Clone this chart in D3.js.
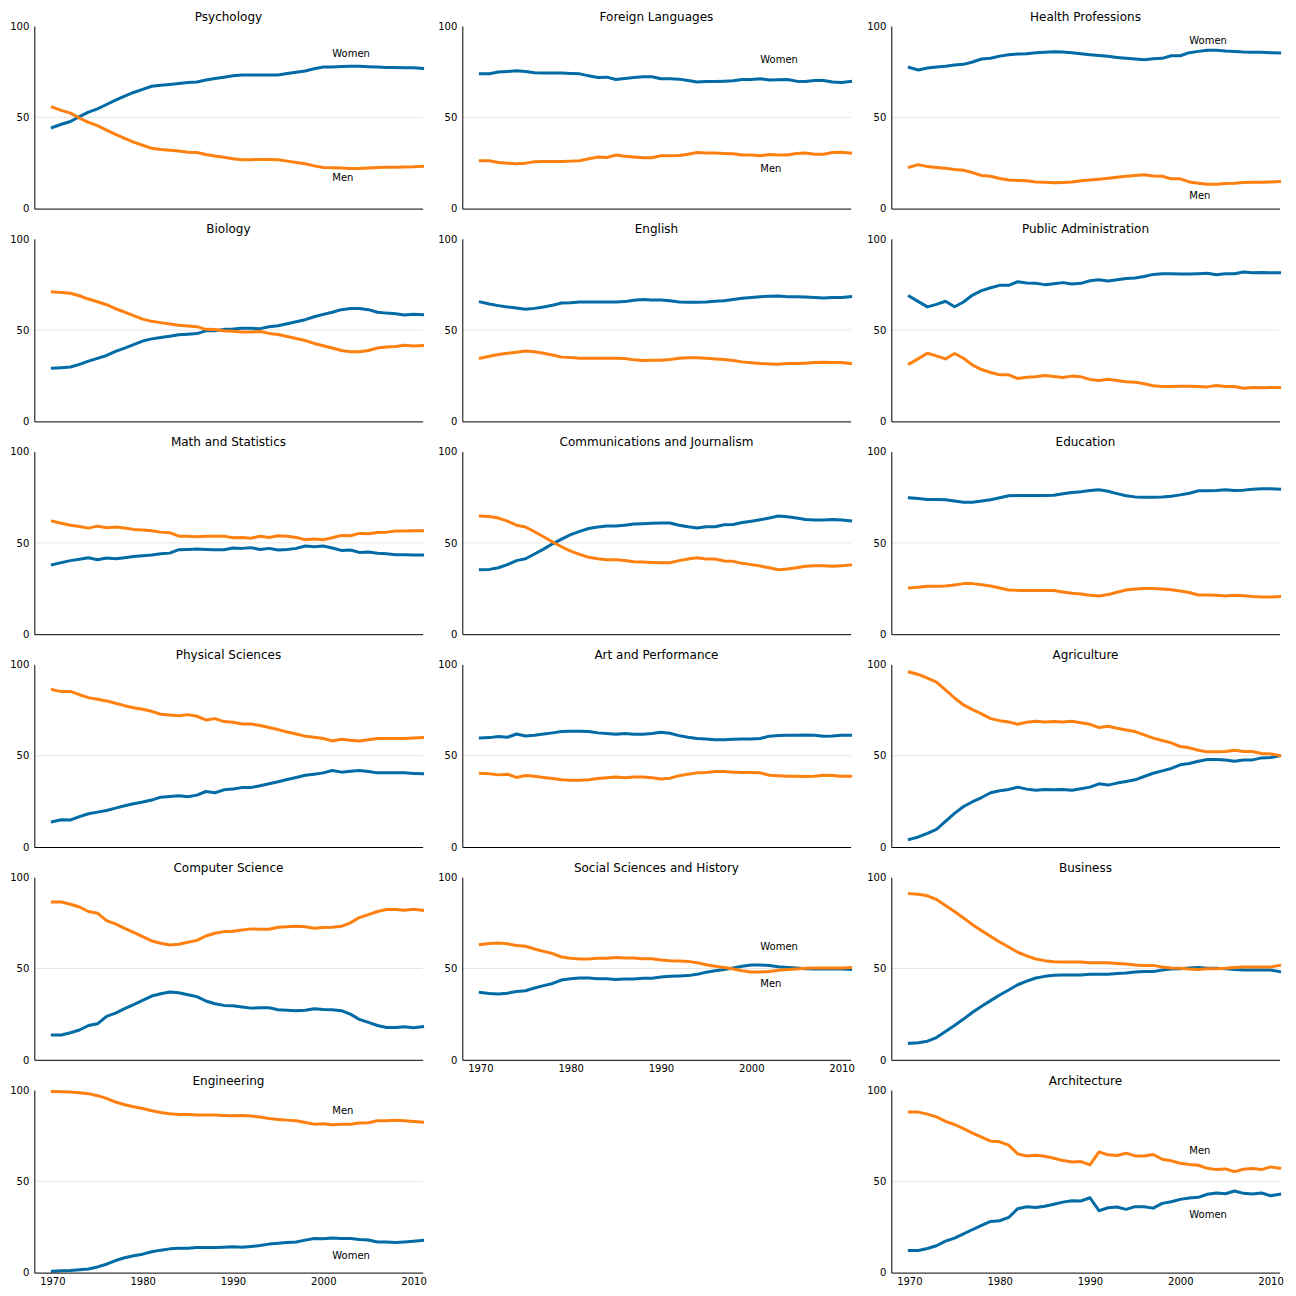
<!DOCTYPE html>
<html>
<head>
<meta charset="utf-8">
<script src="https://cdn.jsdelivr.net/npm/d3@7"></script>
<style>
html, body { margin: 0; padding: 0; background: #fff; }
svg { display: block; }
text { font-family: "DejaVu Sans", sans-serif; }
</style>
</head>
<body>
<div id="chart"></div>
<script>
// ---------- DATA (percent of bachelor's degrees awarded to women, USA) ----------
const years = [1970,1971,1972,1973,1974,1975,1976,1977,1978,1979,1980,1981,1982,1983,1984,1985,1986,1987,1988,1989,1990,1991,1992,1993,1994,1995,1996,1997,1998,1999,2000,2001,2002,2003,2004,2005,2006,2007,2008,2009,2010,2011];

const psychology = [44.4,46.2,47.7,50.4,52.8,54.6,57.0,59.4,61.6,63.6,65.3,67.0,67.6,68.0,68.5,69.1,69.3,70.4,71.2,71.9,72.7,73.2,73.2,73.1,73.1,73.2,74.0,74.7,75.4,76.6,77.5,77.6,77.8,78.0,78.0,77.7,77.5,77.3,77.3,77.2,77.1,76.8];
const biology = [29.1,29.4,29.8,31.2,33.0,34.5,36.1,38.3,40.1,42.1,44.0,45.2,45.9,46.6,47.4,47.7,48.1,49.6,49.7,50.4,50.6,51.0,51.0,50.8,51.8,52.4,53.5,54.6,55.7,57.3,58.6,59.8,61.2,61.8,61.8,61.2,59.8,59.3,59.0,58.3,58.7,58.5];
const mathStatistics = [38.1,39.2,40.3,41.0,41.9,40.8,41.7,41.3,41.9,42.6,43.0,43.4,44.1,44.4,46.3,46.4,46.6,46.4,46.3,46.3,47.2,47.0,47.4,46.4,47.0,46.1,46.4,47.0,48.3,47.9,48.3,47.2,45.9,46.1,44.8,45.0,44.3,44.1,43.5,43.5,43.4,43.4];
const physicalSciences = [13.8,14.9,14.8,16.6,18.2,19.1,20.0,21.3,22.6,23.7,24.6,25.7,27.3,27.7,28.1,27.5,28.4,30.4,29.7,31.3,31.7,32.6,32.6,33.5,34.6,35.7,37.0,38.1,39.3,39.9,40.6,41.9,41.0,41.5,41.9,41.3,40.6,40.6,40.6,40.6,40.3,40.1];
const computerScience = [13.6,13.6,14.8,16.3,18.8,19.7,23.8,25.6,28.0,30.2,32.5,34.9,36.2,37.1,36.7,35.6,34.6,32.2,30.7,29.8,29.6,28.9,28.3,28.5,28.5,27.4,27.1,26.9,27.1,28.0,27.6,27.4,26.9,25.0,22.1,20.5,18.8,17.7,17.7,18.1,17.6,18.1];
const engineering = [0.8,1.0,1.1,1.5,2.0,3.1,4.6,6.6,8.1,9.2,10.1,11.4,12.3,13.0,13.4,13.4,13.7,13.7,13.7,13.9,14.1,13.9,14.3,14.8,15.6,16.1,16.5,16.8,17.8,18.7,18.5,19.0,18.7,18.7,18.1,17.9,16.8,16.8,16.5,16.8,17.2,17.6];
const foreignLanguages = [73.8,73.8,74.8,75.1,75.5,75.1,74.4,74.2,74.2,74.2,74.0,73.8,72.7,71.8,72.0,70.7,71.3,71.8,72.2,72.2,71.1,71.1,70.9,70.2,69.3,69.6,69.6,69.8,70.0,70.7,70.7,71.1,70.4,70.6,70.7,69.8,69.6,70.2,70.2,69.3,69.1,69.6];
const english = [65.4,64.3,63.4,62.7,62.1,61.4,61.9,62.7,63.6,64.8,65.0,65.4,65.4,65.4,65.4,65.4,65.6,66.3,66.7,66.5,66.5,66.1,65.4,65.2,65.2,65.4,65.8,66.1,66.7,67.4,67.9,68.3,68.5,68.7,68.3,68.3,68.1,67.8,67.6,67.8,67.8,68.3];
const communicationsJournalism = [35.3,35.5,36.4,38.1,40.3,41.3,43.9,46.6,49.5,52.1,54.5,56.3,57.9,58.7,59.2,59.2,59.7,60.3,60.5,60.7,60.9,60.9,59.7,58.8,58.1,58.8,58.8,59.9,60.1,61.2,61.9,62.7,63.6,64.7,64.3,63.6,62.8,62.5,62.5,62.8,62.5,62.1];
const artPerformance = [59.7,59.9,60.5,60.1,61.9,60.8,61.2,61.9,62.5,63.2,63.4,63.4,63.2,62.5,62.1,61.7,62.1,61.7,61.7,62.1,62.8,62.3,61.0,60.1,59.4,59.2,58.7,58.7,59.0,59.2,59.2,59.4,60.7,61.0,61.2,61.2,61.4,61.2,60.7,60.8,61.2,61.2];
const socialSciencesHistory = [36.9,36.3,36.1,36.5,37.4,37.8,39.3,40.6,41.8,43.7,44.4,44.8,44.8,44.4,44.4,44.0,44.2,44.2,44.6,44.6,45.3,45.7,45.9,46.1,46.8,47.9,48.8,49.4,50.3,51.2,51.9,51.9,51.7,51.0,50.6,50.3,49.9,49.7,49.7,49.7,49.7,49.5];
const healthProfessions = [77.3,75.9,77.0,77.5,77.9,78.6,79.0,80.3,81.9,82.3,83.5,84.3,84.6,84.8,85.4,85.6,85.9,85.7,85.4,84.8,84.3,83.9,83.4,82.8,82.3,81.9,81.5,82.1,82.3,83.7,83.7,85.4,86.1,86.7,86.7,86.3,86.1,85.7,85.6,85.6,85.4,85.2];
const publicAdministration = [68.5,65.6,62.7,64.1,65.8,62.8,65.4,69.2,71.6,73.2,74.5,74.5,76.5,75.8,75.6,74.9,75.4,76.0,75.2,75.6,77.0,77.6,76.9,77.6,78.3,78.5,79.4,80.5,80.9,80.9,80.7,80.7,80.9,81.1,80.3,80.9,80.9,81.8,81.4,81.6,81.4,81.4];
const education = [74.7,74.3,73.8,73.8,73.6,73.0,72.3,72.3,72.9,73.6,74.7,75.8,76.0,76.0,76.0,76.0,76.1,76.9,77.6,78.0,78.7,79.1,78.3,77.0,75.8,75.2,75.0,75.0,75.2,75.6,76.3,77.2,78.5,78.5,78.7,79.1,78.7,78.9,79.4,79.6,79.6,79.4];
const agriculture = [4.2,5.5,7.5,9.7,14.0,18.4,22.2,24.8,27.1,29.7,30.8,31.5,32.8,31.7,31.1,31.5,31.3,31.5,31.1,31.9,32.8,34.6,33.9,35.0,35.9,36.8,38.6,40.4,41.7,43.0,45.0,45.7,47.0,47.9,47.9,47.7,47.0,47.7,47.7,48.8,49.0,49.9];
const business = [9.0,9.3,10.2,12.2,15.5,18.8,22.3,26.0,29.3,32.4,35.5,38.2,41.1,43.1,44.8,45.7,46.3,46.4,46.4,46.4,46.8,46.8,46.8,47.2,47.5,48.1,48.3,48.3,49.2,49.7,49.9,50.3,50.5,50.1,50.1,49.9,49.4,49.2,49.2,49.2,49.2,48.3];
const architecture = [12.1,12.1,13.2,14.7,17.2,18.9,21.2,23.6,25.8,28.0,28.4,30.2,35.0,36.1,35.7,36.3,37.4,38.6,39.4,39.2,41.0,33.9,35.5,35.9,34.6,36.1,36.1,35.3,37.9,38.8,40.1,40.8,41.2,42.9,43.6,43.2,44.7,43.4,43.0,43.6,42.1,42.9];

const stemCats = ["Psychology","Biology","Math and Statistics","Physical Sciences","Computer Science","Engineering"];
const libArtsCats = ["Foreign Languages","English","Communications and Journalism","Art and Performance","Social Sciences and History"];
const otherCats = ["Health Professions","Public Administration","Education","Agriculture","Business","Architecture"];

const yTicks = [0, 50, 100];
const xTicks = [1970, 1980, 1990, 2000, 2010];

// Annotation labels: [category, text, year, value]
const annotations = [
  ["Psychology","Women",2001,83], ["Psychology","Men",2001,15],
  ["Foreign Languages","Women",2001,80], ["Foreign Languages","Men",2001,20],
  ["Health Professions","Women",2001,90], ["Health Professions","Men",2001,5],
  ["Social Sciences and History","Women",2001,60], ["Social Sciences and History","Men",2001,40],
  ["Engineering","Men",2001,87], ["Engineering","Women",2001,7.5],
  ["Architecture","Men",2001,65], ["Architecture","Women",2001,30]
];

const womenPct = new Map([
  ["Psychology", psychology], ["Biology", biology], ["Math and Statistics", mathStatistics],
  ["Physical Sciences", physicalSciences], ["Computer Science", computerScience], ["Engineering", engineering],
  ["Foreign Languages", foreignLanguages], ["English", english],
  ["Communications and Journalism", communicationsJournalism], ["Art and Performance", artPerformance],
  ["Social Sciences and History", socialSciencesHistory], ["Health Professions", healthProfessions],
  ["Public Administration", publicAdministration], ["Education", education],
  ["Agriculture", agriculture], ["Business", business], ["Architecture", architecture]
]);

// ---------- LAYOUT ----------
const W = 1296, H = 1296;
const colLeft = [34.3, 462.3, 891.3];
const pw = 388.3, ph = 182.6;
const rowTop0 = 26, rowPitch = 212.8;
const blue = "rgb(0,107,164)", orange = "rgb(255,128,14)";

const svg = d3.select("#chart").append("svg").attr("width", W).attr("height", H);
svg.append("rect").attr("width", W).attr("height", H).attr("fill", "#fff");

const columns = [stemCats, libArtsCats, otherCats];
columns.forEach((cats, ci) => {
  cats.forEach((cat, ri) => {
    const isBottom = ri === cats.length - 1;
    const g = svg.append("g").attr("transform", `translate(${colLeft[ci]},${rowTop0 + ri * rowPitch})`);
    const x = d3.scaleLinear().domain([1968, 2011]).range([0, pw]);
    const y = d3.scaleLinear().domain([0, 100]).range([ph, 0]);

    // 50% reference line
    g.append("line")
      .attr("x1", 0).attr("x2", pw).attr("y1", y(50)).attr("y2", y(50))
      .attr("stroke", "rgb(171,171,171)").attr("stroke-opacity", 0.3).attr("stroke-width", 1);

    const w = womenPct.get(cat);
    const line = d3.line().x((d, i) => x(years[i])).y(d => y(d));
    g.append("path").datum(w).attr("d", line)
      .attr("fill", "none").attr("stroke", blue).attr("stroke-width", 3)
      .attr("stroke-linejoin", "round").attr("stroke-linecap", "square");
    g.append("path").datum(w.map(v => 100 - v)).attr("d", line)
      .attr("fill", "none").attr("stroke", orange).attr("stroke-width", 3)
      .attr("stroke-linejoin", "round").attr("stroke-linecap", "square");

    // axes
    const ya = g.append("g").call(
      d3.axisLeft(y).tickValues(yTicks).tickSize(0).tickSizeOuter(0).tickPadding(5).tickFormat(d3.format("d")));
    const xa = g.append("g").attr("transform", `translate(0,${ph})`).call(
      d3.axisBottom(x).tickValues(isBottom ? xTicks : []).tickSize(0).tickSizeOuter(0).tickPadding(5.5).tickFormat(d3.format("d")));
    [ya, xa].forEach(a => {
      a.attr("font-family", "DejaVu Sans, sans-serif").attr("font-size", 10);
      a.select(".domain").attr("stroke", "#000").attr("stroke-width", 1);
      a.selectAll("text").attr("fill", "#000");
    });

    // title
    g.append("text").attr("x", pw / 2).attr("y", -5.5)
      .attr("text-anchor", "middle").attr("font-size", 12).attr("fill", "#000").text(cat);

    // labels
    annotations.filter(a => a[0] === cat).forEach(a => {
      g.append("text").attr("x", x(a[2])).attr("y", y(a[3]))
        .attr("font-size", 10).attr("fill", "#000").text(a[1]);
    });
  });
});
</script>
</body>
</html>
